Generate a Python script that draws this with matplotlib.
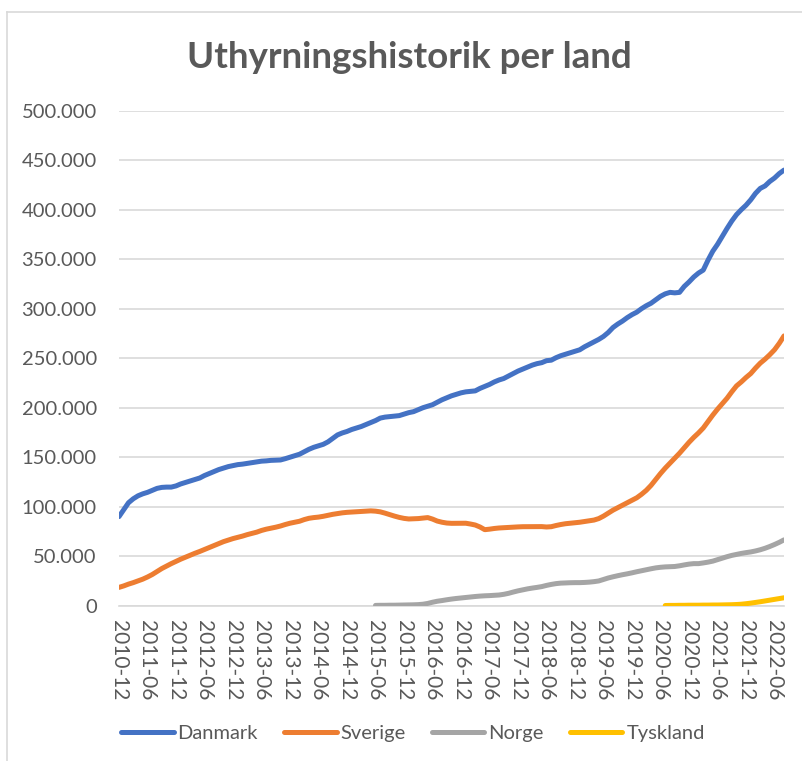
import matplotlib
matplotlib.use("Agg")
import matplotlib.pyplot as plt
from matplotlib.lines import Line2D
from matplotlib.ticker import FuncFormatter
import numpy as np
import pandas as pd

# Månader 2010-12 .. 2022-08
manader = pd.period_range("2010-12", "2022-08", freq="M").strftime("%Y-%m").tolist()

danmark = [
    90000, 97000, 104000, 108000, 111000, 113000, 114500, 116500, 118500, 119500,
    119800, 119800, 121000, 123000, 124500, 126000, 127500, 129000, 131500, 133500,
    135500, 137500, 139000, 140500, 141500, 142500, 143000, 143700, 144500, 145300,
    146000, 146300, 146800, 147000, 147200, 148500, 150000, 151500, 153000, 155500,
    158000, 160000, 161500, 163000, 165500, 169000, 172500, 174500, 176000, 178000,
    179500, 181000, 183000, 185000, 187000, 189500, 190500, 191000, 191500, 192000,
    193500, 195000, 196000, 198000, 200000, 201500, 203000, 205500, 208000, 210000,
    212000, 213500, 215000, 216000, 216500, 217000, 219500, 221500, 223500, 226000,
    228000, 229500, 232000, 234500, 237000, 239000, 241000, 243000, 244500, 245500,
    247500, 248000, 250500, 252500, 254000, 255500, 257000, 258500, 261500, 264000,
    266500, 269000, 272000, 276000, 281000, 284500, 287500, 291000, 294000, 296500,
    300000, 303000, 305500, 309000, 312500, 315000, 316500, 316000, 316500, 322500,
    327000, 332000, 336000, 339000, 349000, 358000, 365000, 373000, 381000, 388500,
    395000, 400000, 404500, 410000, 416500, 421500, 424000, 428500, 432000, 436500,
    440000,
]

sverige = [
    18500, 20000, 21800, 23300, 25000, 26800, 29000, 31500, 34500, 37500,
    40000, 42500, 44800, 47000, 49000, 51000, 53000, 54800, 56800, 58800,
    60800, 62800, 64700, 66300, 67800, 69000, 70300, 71800, 73000, 74300,
    76000, 77300, 78300, 79300, 80500, 82000, 83300, 84300, 85300, 87000,
    88300, 89000, 89500, 90300, 91300, 92300, 93100, 93800, 94300, 94600,
    94900, 95200, 95500, 95800, 95500, 94800, 93500, 92000, 90500, 89200,
    88200, 87600, 87800, 88000, 88500, 89000, 87500, 85500, 84300, 83500,
    83200, 83200, 83200, 83300, 82500, 81500, 79500, 76800, 77300, 78000,
    78500, 78800, 79000, 79300, 79600, 79800, 79800, 79700, 79800, 79900,
    79500, 79800, 81000, 82000, 82800, 83300, 83800, 84300, 85000, 85800,
    86500, 88000, 90500, 93500, 96500, 99000, 101500, 104000, 106500, 109000,
    112500, 116500, 121500, 127500, 133500, 139000, 144000, 149000, 154000, 159500,
    165000, 170000, 174500, 179500, 186000, 192500, 198500, 204000, 209500, 216000,
    222000, 226000, 230500, 234500, 240000, 245000, 249000, 253500, 258500, 265000,
    272500,
]

# Norge från 2015-06
norge_start = "2015-06"
norge = [
    300, 400, 400, 500, 500, 600, 700, 800, 900, 1100,
    1500, 2300, 3500, 4500, 5200, 6000, 6700, 7300, 7800, 8300,
    8800, 9300, 9700, 10000, 10200, 10500, 10800, 11500, 12500, 13800,
    15000, 16000, 17000, 17800, 18500, 19300, 20500, 21500, 22300, 22800,
    23000, 23200, 23300, 23300, 23500, 23800, 24300, 25000, 26500, 28000,
    29200, 30300, 31300, 32200, 33200, 34300, 35300, 36300, 37300, 38200,
    38800, 39200, 39400, 39600, 40300, 41200, 42000, 42500, 42500, 43200,
    44000, 45000, 46500, 48000, 49500, 50800, 51800, 52800, 53600, 54300,
    55300, 56500, 58000, 59800, 61800, 64000, 66500,
]

# Tyskland från 2020-07
tyskland_start = "2020-07"
tyskland = [
    200, 300, 300, 400, 400, 500, 500, 500, 600, 600,
    700, 700, 800, 900, 1000, 1200, 1500, 2000, 2600, 3300,
    4000, 4800, 5600, 6400, 7200, 8000,
]

serier = ["Danmark", "Sverige", "Norge", "Tyskland"]
farger = ["#4472C4", "#ED7D31", "#A5A5A5", "#FFC000"]

x = np.arange(len(manader))
i_norge = manader.index(norge_start)
i_tysk = manader.index(tyskland_start)

plt.rcParams['font.family'] = ['Lato', 'DejaVu Sans']
textfarg = "#595959"

fig = plt.figure(figsize=(8.03, 7.61), dpi=100)
ax = fig.add_axes([119 / 803, 1 - 605.7 / 761, (784 - 119) / 803, (605.7 - 110.7) / 761])

lw = 3.6
kw = dict(lw=lw, solid_capstyle="round", solid_joinstyle="round", zorder=3)
ax.plot(x, danmark, color=farger[0], **kw)
ax.plot(x, sverige, color=farger[1], **kw)
ax.plot(x[i_norge:i_norge + len(norge)], norge, color=farger[2], **kw)
ax.plot(x[i_tysk:i_tysk + len(tyskland)], tyskland, color=farger[3], **kw)

ax.set_xlim(0, len(manader) - 1)
ax.set_ylim(0, 500000)
ax.set_yticks(np.arange(0, 500001, 50000))
ax.yaxis.set_major_formatter(FuncFormatter(lambda v, p: f"{int(v):,}".replace(",", ".")))
ax.grid(axis="y", color="#D9D9D9", lw=1.2)
ax.set_axisbelow(True)
for s in ["top", "right", "left"]:
    ax.spines[s].set_visible(False)
ax.spines["bottom"].set_color("#D9D9D9")
ax.spines["bottom"].set_linewidth(1.2)

ax.set_xticks(x[::6])
ax.set_xticklabels(manader[::6], rotation=-90, ha="center", va="top")
ax.tick_params(axis="x", length=0, pad=10, labelsize=15, labelcolor=textfarg)
ax.tick_params(axis="y", length=0, pad=16, labelsize=14.5, labelcolor=textfarg)

fig.text(409 / 803, 1 - 57 / 761, "Uthyrningshistorik per land", ha="center", va="center",
         fontsize=26.5, fontweight="bold", color=textfarg)

handles = [Line2D([0], [0], color=c, lw=lw, solid_capstyle="round") for c in farger]
leg = fig.legend(handles, serier, loc="center", bbox_to_anchor=(413 / 803, 1 - 733 / 761),
                 ncol=4, frameon=False, fontsize=14.5, handlelength=2.6, handletextpad=0.2,
                 columnspacing=1.3, labelcolor=textfarg)

# ram runt diagrammet
fig.add_artist(Line2D([7 / 803, 7 / 803], [0, 1 - 12 / 761], color="#D9D9D9", lw=1.2))
fig.add_artist(Line2D([7 / 803, 1], [1 - 12 / 761, 1 - 12 / 761], color="#D9D9D9", lw=1.2))

fig.savefig("out.png", dpi=100)
